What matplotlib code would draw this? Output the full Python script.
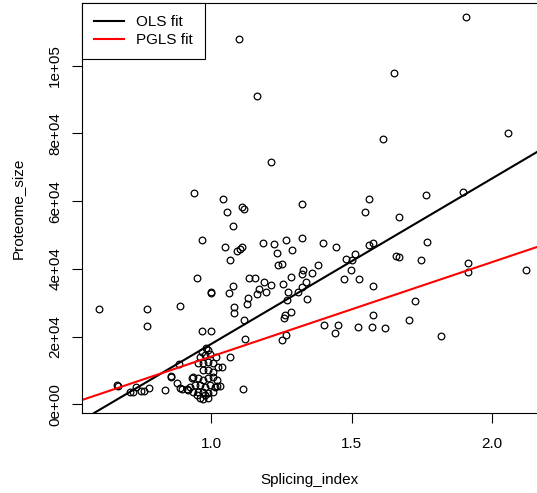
import numpy as np
import matplotlib.pyplot as plt

plt.rcParams['font.family'] = ['Liberation Sans', 'DejaVu Sans']

# Splicing_index vs Proteome_size
splicing_index = [
    1.905, 1.098, 1.651, 1.165, 2.055, 1.613, 1.212, 0.938, 1.895, 1.764,
    1.043, 1.563, 1.322, 1.111, 1.117, 1.057, 1.546, 1.667, 1.079, 0.968,
    1.767, 1.186, 1.224, 1.268, 1.325, 1.399, 1.445, 1.562, 1.577, 1.051,
    1.093, 1.103, 1.111, 1.234, 1.286, 1.066, 1.238, 1.252, 1.479, 1.512,
    1.501, 1.380, 1.358, 1.327, 1.322, 1.284, 1.338, 1.322, 1.310, 1.499,
    1.474, 1.525, 1.577, 1.340, 1.285, 1.577, 1.403, 1.450, 1.524, 1.571,
    1.619, 1.441, 1.658, 1.669, 1.747, 1.913, 1.913, 2.119, 1.725, 1.705,
    1.817, 1.267, 1.251, 1.213, 1.255, 1.272, 1.270, 1.263, 1.258, 0.951,
    1.135, 1.157, 1.187, 1.079, 1.000, 0.998, 1.062, 1.170, 1.163, 1.194,
    1.132, 1.126, 1.083, 1.082, 1.116, 0.966, 1.000, 0.888, 0.602, 0.772,
    0.771, 1.121, 1.069, 1.113, 0.668, 0.664, 0.711, 0.722, 0.734, 0.751,
    0.762, 0.780, 0.835, 0.856, 0.858, 0.885, 0.880, 0.889, 0.916, 0.932,
    0.897, 0.981, 0.990, 0.961, 0.979, 0.996, 0.955, 0.973, 0.990, 1.008,
    1.026, 1.038, 0.973, 0.990, 1.008, 0.937, 0.955, 0.973, 0.990, 1.008,
    1.020, 0.925, 0.943, 0.961, 0.979, 0.996, 1.014, 0.919, 0.937, 0.955,
    0.973, 0.990, 1.008, 0.949, 0.979, 0.961, 0.973, 0.990, 1.020, 1.018,
    1.032, 0.968,
]
proteome_size = [
    114300, 107800, 97900, 91100, 80000, 78400, 71600, 62500, 62800, 61900,
    60600, 60700, 59200, 58400, 57700, 56700, 56800, 55400, 52600, 48400,
    48000, 47600, 47400, 48400, 49200, 47700, 46600, 47100, 47600, 46600,
    45300, 45900, 46600, 44800, 45600, 42600, 41100, 41400, 43000, 44300,
    42600, 41200, 38700, 39700, 38600, 37700, 36200, 34600, 33300, 39700,
    36900, 37000, 34900, 31100, 27400, 26500, 23500, 23300, 22700, 22700,
    22500, 21100, 43800, 43600, 42600, 41800, 39100, 39700, 30500, 24900,
    20300, 20600, 19000, 35200, 35600, 33200, 30700, 26500, 25600, 37300,
    37400, 37400, 36200, 35000, 33200, 33000, 33000, 34100, 32600, 33200,
    31500, 29600, 28800, 26900, 24900, 21800, 21800, 28900, 28100, 28100,
    23200, 19400, 14000, 4600, 5300, 5700, 3700, 3700, 5100, 3900,
    3900, 4900, 4300, 8500, 8200, 11800, 6400, 4900, 4400, 7700,
    4500, 16500, 16000, 14100, 14600, 14900, 12100, 12100, 12600, 12100,
    11100, 10900, 10100, 10100, 9600, 8200, 7700, 7200, 7700, 8200,
    7200, 5200, 5700, 5700, 5200, 5700, 5200, 4200, 3700, 3700,
    3700, 3200, 3700, 2700, 2700, 1800, 1600, 1800, 5400, 14100,
    5400, 15400,
]

# fitted lines (intercept, slope)
ols_fit = (-31160, 48955)
pgls_fit = (-13843, 27936)

x_ticks = [1.0, 1.5, 2.0]
y_ticks = [0, 20000, 40000, 60000, 80000, 100000]

fig = plt.figure(figsize=(5.37, 4.93), dpi=100)
ax = fig.add_axes([82 / 537, 80 / 493, 455 / 537, 410 / 493])

ax.plot(splicing_index, proteome_size, 'o', mfc='none', mec='black',
        markersize=4.8, markeredgewidth=0.9, linestyle='none')

ax.axline((0, ols_fit[0]), slope=ols_fit[1], color='black', lw=1.5, label='OLS fit')
ax.axline((0, pgls_fit[0]), slope=pgls_fit[1], color='red', lw=1.5, label='PGLS fit')

ax.set_xlim(0.541, 2.159)
ax.set_ylim(-2570, 118545)

ax.set_xticks(x_ticks)
ax.set_xticklabels([f'{v:.1f}' for v in x_ticks])
ax.set_yticks(y_ticks)
ax.set_yticklabels([f'{v:.0e}' for v in y_ticks], rotation=90, va='center')

ax.tick_params(axis='x', direction='out', length=7.2, width=0.8, pad=10, labelsize=11)
ax.tick_params(axis='y', direction='out', length=7.2, width=0.8, pad=7, labelsize=11)

for side in ['left', 'bottom', 'top']:
    ax.spines[side].set_linewidth(0.8)
ax.spines['right'].set_visible(False)

ax.set_xlabel('Splicing_index', fontsize=11)
ax.xaxis.set_label_coords(0.5, (413 - 480) / 410)
ax.xaxis.label.set_va('center')
ax.set_ylabel('Proteome_size', fontsize=11)
ax.yaxis.set_label_coords((18 - 82) / 455, 0.5)
ax.yaxis.label.set_va('center')

leg = ax.legend(loc='upper left', borderaxespad=0, fancybox=False,
                edgecolor='black', framealpha=1, fontsize=11,
                handlelength=1.95, handletextpad=0.8, borderpad=0.8,
                labelspacing=0.25)
leg.get_frame().set_linewidth(0.8)

fig.savefig('out.png', dpi=100)
